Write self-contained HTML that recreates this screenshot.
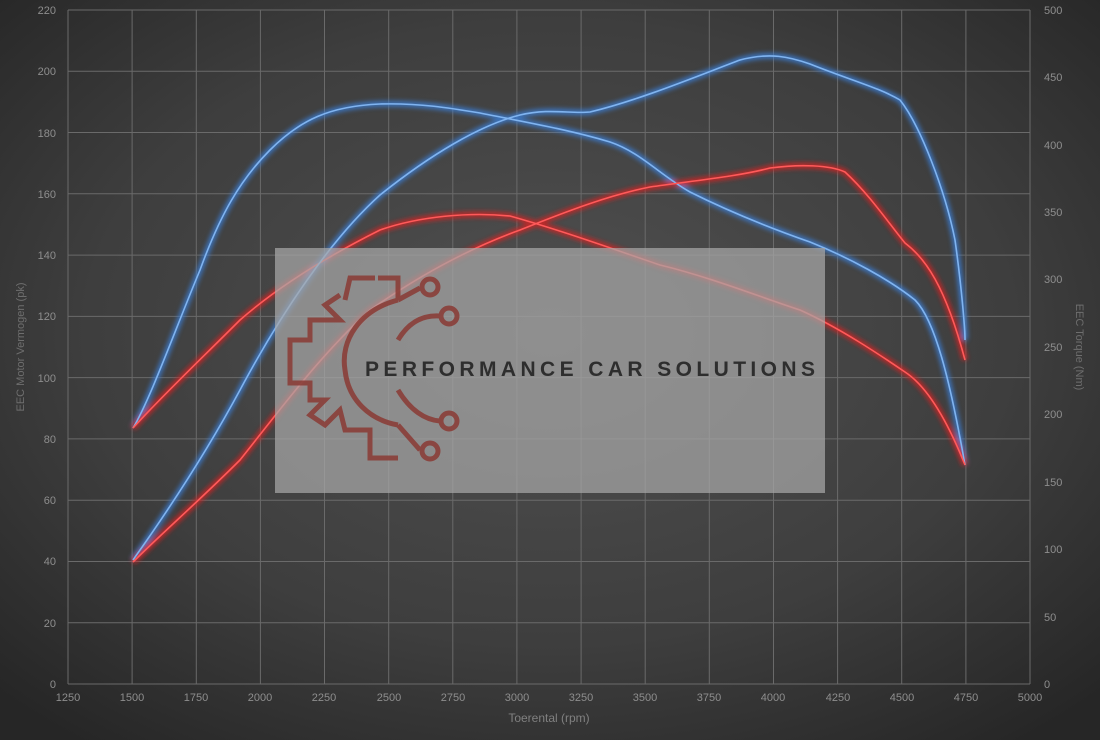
<!DOCTYPE html>
<html><head><meta charset="utf-8"><style>
html,body{margin:0;padding:0;width:1100px;height:740px;overflow:hidden;background:#3a3a3a}
svg{display:block}
text{font-family:"Liberation Sans",sans-serif}
</style></head><body>
<svg width="1100" height="740" viewBox="0 0 1100 740" xmlns="http://www.w3.org/2000/svg">
<defs>
<radialGradient id="bg" cx="50%" cy="45%" r="70%">
<stop offset="0" stop-color="#505050"/><stop offset="0.6" stop-color="#3e3e3e"/><stop offset="1" stop-color="#262626"/>
</radialGradient>
<filter id="glow" x="-10%" y="-10%" width="120%" height="120%"><feGaussianBlur stdDeviation="2.5"/></filter>
</defs>
<rect width="1100" height="740" fill="url(#bg)"/>
<g stroke="#6a6a6a" stroke-width="1" fill="none">
<path d="M68 10V684M132.1 10V684M196.3 10V684M260.4 10V684M324.5 10V684M388.7 10V684M452.8 10V684M516.9 10V684M581.1 10V684M645.2 10V684M709.3 10V684M773.5 10V684M837.6 10V684M901.7 10V684M965.9 10V684M1030 10V684"/>
<path d="M68 684H1030M68 622.7H1030M68 561.5H1030M68 500.2H1030M68 438.9H1030M68 377.6H1030M68 316.4H1030M68 255.1H1030M68 193.8H1030M68 132.5H1030M68 71.3H1030M68 10H1030"/>
</g>
<g font-size="11" fill="#8e8e8e" text-anchor="end">
<text x="56" y="688">0</text><text x="56" y="627">20</text><text x="56" y="565">40</text><text x="56" y="504">60</text><text x="56" y="443">80</text><text x="56" y="382">100</text><text x="56" y="320">120</text><text x="56" y="259">140</text><text x="56" y="198">160</text><text x="56" y="137">180</text><text x="56" y="75">200</text><text x="56" y="14">220</text>
</g>
<g font-size="11" fill="#8e8e8e" text-anchor="start">
<text x="1044" y="688">0</text><text x="1044" y="621">50</text><text x="1044" y="553">100</text><text x="1044" y="486">150</text><text x="1044" y="418">200</text><text x="1044" y="351">250</text><text x="1044" y="283">300</text><text x="1044" y="216">350</text><text x="1044" y="149">400</text><text x="1044" y="81">450</text><text x="1044" y="14">500</text>
</g>
<g font-size="11" fill="#8e8e8e" text-anchor="middle">
<text x="68" y="701">1250</text><text x="132" y="701">1500</text><text x="196" y="701">1750</text><text x="260" y="701">2000</text><text x="324" y="701">2250</text><text x="389" y="701">2500</text><text x="453" y="701">2750</text><text x="517" y="701">3000</text><text x="581" y="701">3250</text><text x="645" y="701">3500</text><text x="709" y="701">3750</text><text x="773" y="701">4000</text><text x="838" y="701">4250</text><text x="902" y="701">4500</text><text x="966" y="701">4750</text><text x="1030" y="701">5000</text>
</g>
<text x="549" y="722" font-size="12" fill="#808080" text-anchor="middle">Toerental (rpm)</text>
<text transform="translate(24,347) rotate(-90)" font-size="11" fill="#6e6e6e" text-anchor="middle">EEC Motor Vermogen (pk)</text>
<text transform="translate(1076,347) rotate(90)" font-size="11" fill="#6e6e6e" text-anchor="middle">EEC Torque (Nm)</text>

<g fill="none" stroke-linejoin="round">
<g filter="url(#glow)" stroke-width="6" opacity="0.8">
<path stroke="#3a7fd8" d="M133 428 C150 400 175 330 200 270 C220 215 240 180 270 150 C300 120 330 106 380 104 C420 103 450 108 480 113 C530 123 570 130 610 142 C640 152 660 175 690 192 C730 212 770 228 810 242 C850 258 890 280 915 300 C935 320 950 380 965 465"/>
<path stroke="#d82020" d="M133 428 C160 398 200 360 240 320 C280 285 330 255 380 230 C420 216 470 212 510 216 C560 230 610 248 660 265 C710 277 760 297 800 310 C840 328 880 355 905 372 C925 385 945 415 965 465"/>
<path stroke="#3a7fd8" d="M133 560 C165 515 205 455 240 390 C280 315 330 240 380 195 C430 155 480 125 520 115 C550 108 570 114 590 112 C640 100 700 75 740 60 C770 52 790 57 810 64 C850 80 880 88 900 100 C920 125 945 190 955 240 C962 290 965 330 965 340"/>
<path stroke="#d82020" d="M133 562 C160 535 200 500 240 460 C280 410 320 355 370 310 C420 275 470 248 520 230 C570 210 610 195 650 187 C700 180 740 176 770 168 C800 164 830 165 845 172 C870 195 890 225 905 243 C925 258 945 285 965 360"/>
</g>
<g stroke-width="1.6">
<path stroke="#80b4f0" d="M133 428 C150 400 175 330 200 270 C220 215 240 180 270 150 C300 120 330 106 380 104 C420 103 450 108 480 113 C530 123 570 130 610 142 C640 152 660 175 690 192 C730 212 770 228 810 242 C850 258 890 280 915 300 C935 320 950 380 965 465"/>
<path stroke="#ff5a5a" d="M133 428 C160 398 200 360 240 320 C280 285 330 255 380 230 C420 216 470 212 510 216 C560 230 610 248 660 265 C710 277 760 297 800 310 C840 328 880 355 905 372 C925 385 945 415 965 465"/>
<path stroke="#80b4f0" d="M133 560 C165 515 205 455 240 390 C280 315 330 240 380 195 C430 155 480 125 520 115 C550 108 570 114 590 112 C640 100 700 75 740 60 C770 52 790 57 810 64 C850 80 880 88 900 100 C920 125 945 190 955 240 C962 290 965 330 965 340"/>
<path stroke="#ff5a5a" d="M133 562 C160 535 200 500 240 460 C280 410 320 355 370 310 C420 275 470 248 520 230 C570 210 610 195 650 187 C700 180 740 176 770 168 C800 164 830 165 845 172 C870 195 890 225 905 243 C925 258 945 285 965 360"/>
</g>
</g>

<rect x="275" y="248" width="550" height="245" fill="#a8a8a8" opacity="0.72"/>
<g fill="none" stroke="#8a3a34" stroke-width="5" opacity="0.85">
<path d="M398 280 V300 M378 278 H398 V280 M340 295 L325 305 L340 320 L310 320 V340 L290 340 V383 L310 383 V400 L325 400 L310 415 L325 425 L340 410 L345 430 L370 430 V458 H398 M345 300 L350 278 H375"/>
<path d="M398 300 C360 310 340 340 345 370 C348 400 370 420 398 425"/>
<path d="M398 300 L420 288"/><circle cx="430" cy="287" r="8"/>
<path d="M398 340 C410 320 425 315 440 316"/><circle cx="449" cy="316" r="8"/>
<path d="M398 390 C410 410 425 420 440 421"/><circle cx="449" cy="421" r="8"/>
<path d="M398 425 L420 450"/><circle cx="430" cy="451" r="8"/>
</g>
<text x="365" y="376" font-size="21" font-weight="bold" fill="#2e2e2e" textLength="450" lengthAdjust="spacing">PERFORMANCE CAR SOLUTIONS</text>
</svg>
</body></html>
